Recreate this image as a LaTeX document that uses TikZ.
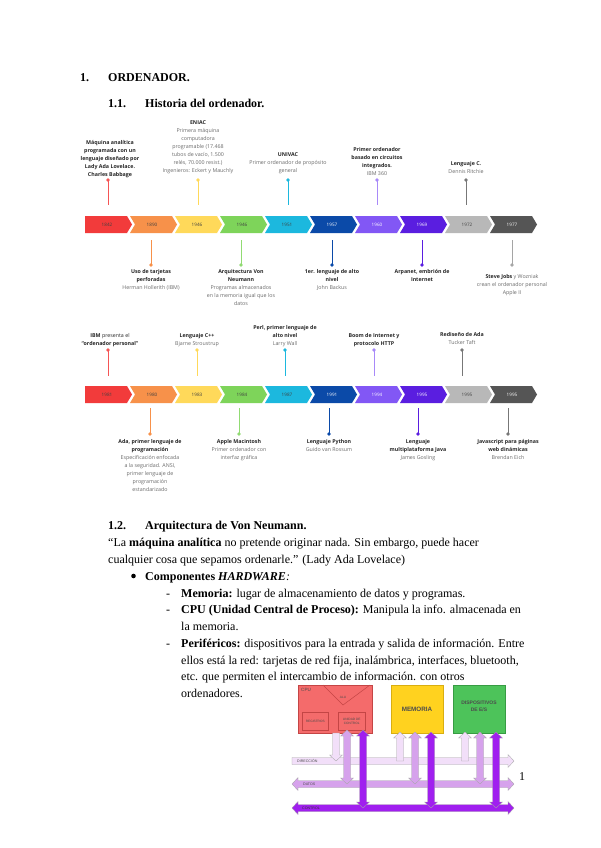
\documentclass[tikz,border=0pt]{standalone}
\usepackage{fontspec}
\setmainfont{Liberation Serif}
\newfontfamily\tlf{Open Sans}
\newfontfamily\hwf{Liberation Sans}
\usetikzlibrary{arrows.meta}
\definecolor{cRed}{HTML}{F23B3B}
\definecolor{cOra}{HTML}{F7914A}
\definecolor{cYel}{HTML}{FFD95A}
\definecolor{cGre}{HTML}{7ED45A}
\definecolor{cCya}{HTML}{1CB8DE}
\definecolor{cBlu}{HTML}{0B4AA8}
\definecolor{cLav}{HTML}{8257F5}
\definecolor{cVio}{HTML}{5A1EE0}
\definecolor{cLgr}{HTML}{B8B8B8}
\definecolor{cDgr}{HTML}{555555}
\definecolor{tgrey}{HTML}{6A6A6A}
\definecolor{cpuF}{HTML}{F46B6B}
\definecolor{cpuB}{HTML}{C44545}
\definecolor{memF}{HTML}{FFD21F}
\definecolor{memB}{HTML}{D9AE10}
\definecolor{esF}{HTML}{4DC35A}
\definecolor{esB}{HTML}{379C43}
\definecolor{busA}{HTML}{F2DFF9}
\definecolor{busB}{HTML}{D6A2EC}
\definecolor{busC}{HTML}{A01FEF}
\tikzset{
  yr/.style={inner sep=0, font=\tlf\fontsize{4.6}{5}\selectfont},
  tlab/.style={inner sep=0, align=center, text=black!85, font=\tlf\fontsize{5.3}{8}\selectfont},
  stem/.style={line width=0.9pt},
  dotc/.style={circle, inner sep=0, minimum size=3.6pt},
  body/.style={anchor=base west, inner sep=0, font=\fontsize{12}{14}\selectfont},
  hbody/.style={anchor=base west, inner sep=0, font=\bfseries\fontsize{12}{14}\selectfont},
  hwbox/.style={anchor=north west, inner sep=0, line width=0.5pt},
  hwt/.style={inner sep=0, font=\hwf\fontsize{3.2}{3.8}\selectfont, text=black!70, align=center},
}
\newcommand\grey[1]{\textcolor{tgrey}{#1}}
\newcommand\chev[7]{%
  \fill[#3] (#1,#2) -- ++(42,0) -- ++(5,8.5) -- ++(-5,8.5) -- ++(-42,0) -- ++(#7,-8.5) -- cycle;
  \node[yr, text=#4] (#6) at ({#1+22},{#2+8.5}) {#5};}
\newcommand\vdbl[4]{%
  \filldraw[fill=#4, draw=black!35, line width=0.3pt]
  ({#1-3.5},{#2+6}) -- ({#1-6.5},{#2+6}) -- (#1,#2) -- ({#1+6.5},{#2+6}) -- ({#1+3.5},{#2+6})
  -- ({#1+3.5},{#3-6}) -- ({#1+6.5},{#3-6}) -- (#1,#3) -- ({#1-6.5},{#3-6}) -- ({#1-3.5},{#3-6}) -- cycle;}
\newcommand\vdown[4]{%
  \filldraw[fill=#4, draw=black!35, line width=0.3pt]
  ({#1-3.5},#2) -- ({#1+3.5},#2) -- ({#1+3.5},{#3-6}) -- ({#1+6.5},{#3-6}) -- (#1,#3)
  -- ({#1-6.5},{#3-6}) -- ({#1-3.5},{#3-6}) -- cycle;}
\newcommand\vup[4]{%
  \filldraw[fill=#4, draw=black!35, line width=0.3pt]
  ({#1-3.5},#3) -- ({#1+3.5},#3) -- ({#1+3.5},{#2+6}) -- ({#1+6.5},{#2+6}) -- (#1,#2)
  -- ({#1-6.5},{#2+6}) -- ({#1-3.5},{#2+6}) -- cycle;}
\newcommand\hdbl[4]{%
  \filldraw[fill=#4, draw=black!35, line width=0.3pt]
  ({#2+6},{#1-3.5}) -- ({#2+6},{#1-6.5}) -- (#2,#1) -- ({#2+6},{#1+6.5}) -- ({#2+6},{#1+3.5})
  -- ({#3-6},{#1+3.5}) -- ({#3-6},{#1+6.5}) -- (#3,#1) -- ({#3-6},{#1-6.5}) -- ({#3-6},{#1-3.5}) -- cycle;}
\newcommand\hright[4]{%
  \filldraw[fill=#4, draw=black!35, line width=0.3pt]
  (#2,{#1-3.5}) -- ({#3-6},{#1-3.5}) -- ({#3-6},{#1-6.5}) -- (#3,#1) -- ({#3-6},{#1+6.5})
  -- ({#3-6},{#1+3.5}) -- (#2,{#1+3.5}) -- cycle;}
\begin{document}
\begin{tikzpicture}[x=1pt,y=-1pt]
\useasboundingbox (0,0) rectangle (600,848);
\fill[white] (0,0) rectangle (600,848);

% headings
\node[hbody] (h1n) at (80,82) {1.};
\node[hbody] (h1) at (108,82) {ORDENADOR.};
\node[hbody] (h11n) at (108,108) {1.1.};
\node[hbody] (h11) at (145,108) {Historia del ordenador.};

% ===== timeline 1 =====
\chev{85}{216}{cRed}{black!75}{1842}{a1}{0}
\chev{130}{216}{cOra}{black!75}{1890}{a2}{5}
\chev{175}{216}{cYel}{black!75}{1946}{a3}{5}
\chev{220}{216}{cGre}{black!75}{1946}{a4}{5}
\chev{265}{216}{cCya}{black!75}{1951}{a5}{5}
\chev{310}{216}{cBlu}{white}{1957}{a6}{5}
\chev{355}{216}{cLav}{white}{1960}{a7}{5}
\chev{400}{216}{cVio}{white}{1969}{a8}{5}
\chev{445}{216}{cLgr}{black!75}{1972}{a9}{5}
\chev{490}{216}{cDgr}{white}{1977}{a10}{5}

% top stems t1
\foreach \n/\x/\c in {1/108/cRed!80!pink, 3/198/cYel, 5/288/cCya, 7/377/cLav!70, 9/466/cDgr!80} {
  \coordinate (ta\n) at (\x,180);
  \coordinate (tb\n) at (\x,205);
  \draw[stem, \c] (ta\n) -- (tb\n);
  \node[dotc, fill=\c] at (ta\n) {};
}
\node[tlab, anchor=south] (la1) at (110,177.5) {\textbf{Máquina analítica}\\\textbf{programada con un}\\\textbf{lenguaje diseñado por}\\\textbf{Lady Ada Lovelace.}\\\textbf{Charles Babbage}};
\node[tlab, anchor=south] (la3) at (198,173.5) {\textbf{ENIAC}\\\grey{Primera máquina}\\\grey{computadora}\\\grey{programable (17.468}\\\grey{tubos de vacío, 1.500}\\\grey{relés, 70.000 resist.)}\\\grey{Ingenieros: Eckert y Mauchly}};
\node[tlab, anchor=south] (la5) at (288,173.5) {\textbf{UNIVAC}\\\grey{Primer ordenador de propósito}\\\grey{general}};
\node[tlab, anchor=south] (la7) at (377,176) {\textbf{Primer ordenador}\\\textbf{basado en circuitos}\\\textbf{integrados.}\\\grey{IBM 360}};
\node[tlab, anchor=south] (la9) at (466,173.5) {\textbf{Lenguaje C.}\\\grey{Dennis Ritchie}};

% bottom stems t1
\foreach \n/\x/\c in {2/151/cOra, 4/241/cGre!85, 6/332/cBlu, 8/422/cVio, 10/512/cLgr!90!black} {
  \coordinate (ba\n) at (\x,240);
  \coordinate (bb\n) at (\x,265);
  \draw[stem, \c] (ba\n) -- (bb\n);
  \node[dotc, fill=\c] at (bb\n) {};
}
\node[tlab, anchor=north] (lb2) at (151,269.5) {\textbf{Uso de tarjetas}\\\textbf{perforadas}\\\grey{Herman Hollerith (IBM)}};
\node[tlab, anchor=north] (lb4) at (241,269.5) {\textbf{Arquitectura Von}\\\textbf{Neumann}\\\grey{Programas almacenados}\\\grey{en la memoria igual que los}\\\grey{datos}};
\node[tlab, anchor=north] (lb6) at (332,269.5) {\textbf{1er. lenguaje de alto}\\\textbf{nivel}\\\grey{John Backus}};
\node[tlab, anchor=north] (lb8) at (422,269) {\textbf{Arpanet, embrión de}\\\textbf{Internet}};
\node[tlab, anchor=north] (lb10) at (512,274.5) {\textbf{Steve Jobs} \grey{y Wozniak}\\\grey{crean el ordenador personal}\\\grey{Apple II}};

% ===== timeline 2 =====
\chev{85}{386}{cRed}{black!75}{1981}{c1}{0}
\chev{130}{386}{cOra}{black!75}{1980}{c2}{5}
\chev{175}{386}{cYel}{black!75}{1983}{c3}{5}
\chev{220}{386}{cGre}{black!75}{1984}{c4}{5}
\chev{265}{386}{cCya}{black!75}{1987}{c5}{5}
\chev{310}{386}{cBlu}{white}{1991}{c6}{5}
\chev{355}{386}{cLav}{white}{1994}{c7}{5}
\chev{400}{386}{cVio}{white}{1995}{c8}{5}
\chev{445}{386}{cLgr}{black!75}{1995}{c9}{5}
\chev{490}{386}{cDgr}{white}{1995}{c10}{5}

\foreach \n/\x/\c in {1/108/cRed!80!pink, 3/197/cYel, 5/285/cCya, 7/374/cLav!70, 9/462/cDgr!80} {
  \coordinate (tc\n) at (\x,350);
  \coordinate (td\n) at (\x,376);
  \draw[stem, \c] (tc\n) -- (td\n);
  \node[dotc, fill=\c] at (tc\n) {};
}
\node[tlab, anchor=south] (lc1) at (110,346.5) {\textbf{IBM} presenta el\\\textbf{“ordenador personal”}};
\node[tlab, anchor=south] (lc3) at (197,346.5) {\textbf{Lenguaje C++}\\\grey{Bjarne Stroustrup}};
\node[tlab, anchor=south] (lc5) at (285,346.5) {\textbf{Perl, primer lenguaje de}\\\textbf{alto nivel}\\\grey{Larry Wall}};
\node[tlab, anchor=south] (lc7) at (374,346.5) {\textbf{Boom de Internet y}\\\textbf{protocolo HTTP}};
\node[tlab, anchor=south] (lc9) at (462,344.5) {\textbf{Rediseño de Ada}\\\grey{Tucker Taft}};

\foreach \n/\x/\c in {2/150/cOra, 4/239/cGre!85, 6/329/cBlu, 8/418/cVio, 10/508/cDgr!80} {
  \coordinate (bc\n) at (\x,408);
  \coordinate (bd\n) at (\x,434);
  \draw[stem, \c] (bc\n) -- (bd\n);
  \node[dotc, fill=\c] at (bd\n) {};
}
\node[tlab, anchor=north] (ld2) at (150,439.5) {\textbf{Ada, primer lenguaje de}\\\textbf{programación}\\\grey{Especificación enfocada}\\\grey{a la seguridad. ANSI,}\\\grey{primer lenguaje de}\\\grey{programación}\\\grey{estandarizado}};
\node[tlab, anchor=north] (ld4) at (239,439.5) {\textbf{Apple Macintosh}\\\grey{Primer ordenador con}\\\grey{interfaz gráfica}};
\node[tlab, anchor=north] (ld6) at (329,439.5) {\textbf{Lenguaje Python}\\\grey{Guido van Rossum}};
\node[tlab, anchor=north] (ld8) at (418,439.5) {\textbf{Lenguaje}\\\textbf{multiplataforma Java}\\\grey{James Gosling}};
\node[tlab, anchor=north] (ld10) at (508,439.5) {\textbf{Javascript para páginas}\\\textbf{web dinámicas}\\\grey{Brendan Eich}};

% ===== section 1.2 =====
\node[hbody] (h12n) at (108,529) {1.2.};
\node[hbody] (h12) at (145,529) {Arquitectura de Von Neumann.};
\node[body] (q1) at (108,546) {“La \textbf{máquina analítica} no pretende originar nada. Sin embargo, puede hacer};
\node[body] (q2) at (108,563) {cualquier cosa que sepamos ordenarle.” (Lady Ada Lovelace)};
\fill (133.5,576) circle (2.3);
\node[body] (b1) at (145,580) {\textbf{Componentes \textit{HARDWARE}}\textit{:}};
\node[body] (d1) at (166,597) {-};
\node[body] (m1) at (181,597) {\textbf{Memoria:} lugar de almacenamiento de datos y programas.};
\node[body] (d2) at (166,613) {-};
\node[body] (c1t) at (181,613) {\textbf{CPU (Unidad Central de Proceso):} Manipula la info. almacenada en};
\node[body] (c2t) at (181,630) {la memoria.};
\node[body] (d3) at (166,647) {-};
\node[body] (p1) at (181,647) {\textbf{Periféricos:} dispositivos para la entrada y salida de información. Entre};
\node[body] (p2) at (181,664) {ellos está la red: tarjetas de red fija, inalámbrica, interfaces, bluetooth,};
\node[body] (p3) at (181,680) {etc. que permiten el intercambio de información. con otros};
\node[body] (p4) at (181,697) {ordenadores.};
\node[body] (pg) at (519,780) {1};

% ===== hardware diagram =====
\node[hwbox, draw=cpuB, fill=cpuF, minimum width=74, minimum height=48] (cpu) at (298,685) {};
\draw[cpuB, line width=0.5pt] (323,685) -- (343,705) -- (370,685);
\node[hwt, anchor=north west, font=\hwf\fontsize{4.6}{5}\selectfont] (cpul) at (301,688) {CPU};
\node[hwt] (alu) at (343,697) {ALU};
\node[hwbox, draw=cpuB, minimum width=26, minimum height=18] (reg) at (302,712) {};
\node[hwt] at (reg.center) {REGISTROS};
\node[hwbox, draw=cpuB, minimum width=27, minimum height=18] (uc) at (338,712) {};
\node[hwt] at (uc.center) {UNIDAD DE\\CONTROL};
\node[hwbox, draw=memB, fill=memF, minimum width=52, minimum height=48] (mem) at (391,685) {};
\node[inner sep=0, font=\hwf\bfseries\fontsize{6.3}{7}\selectfont, text=black!70] at (417,709) {MEMORIA};
\node[hwbox, draw=esB, fill=esF, minimum width=52, minimum height=48] (es) at (453,685) {};
\node[inner sep=0, align=center, font=\hwf\bfseries\fontsize{5}{7}\selectfont, text=black!70] at (479,706) {DISPOSITIVOS\\DE E/S};

% buses
\hright{761}{292}{514}{busA}
\hdbl{784}{292}{514}{busB}
\hdbl{808}{292}{514}{busC}
\node[hwt, anchor=west, font=\hwf\fontsize{3.6}{4}\selectfont] (bdir) at (297,761) {DIRECCIÓN};
\node[hwt, anchor=west, font=\hwf\fontsize{3.6}{4}\selectfont] (bdat) at (303,784) {DATOS};
\node[hwt, anchor=west, font=\hwf\fontsize{3.6}{4}\selectfont, text=black!80] (bcon) at (302,808) {CONTROL};

% vertical connections
\vdown{336}{733}{761}{busA}
\vdbl{347}{730}{784}{busB}
\vdbl{363}{730}{808}{busC}
\vup{400}{732}{761}{busA}
\vdbl{415}{732}{784}{busB}
\vdbl{431}{732}{808}{busC}
\vup{465}{732}{761}{busA}
\vdbl{480}{732}{784}{busB}
\vdbl{496}{732}{808}{busC}
\end{tikzpicture}
\end{document}
